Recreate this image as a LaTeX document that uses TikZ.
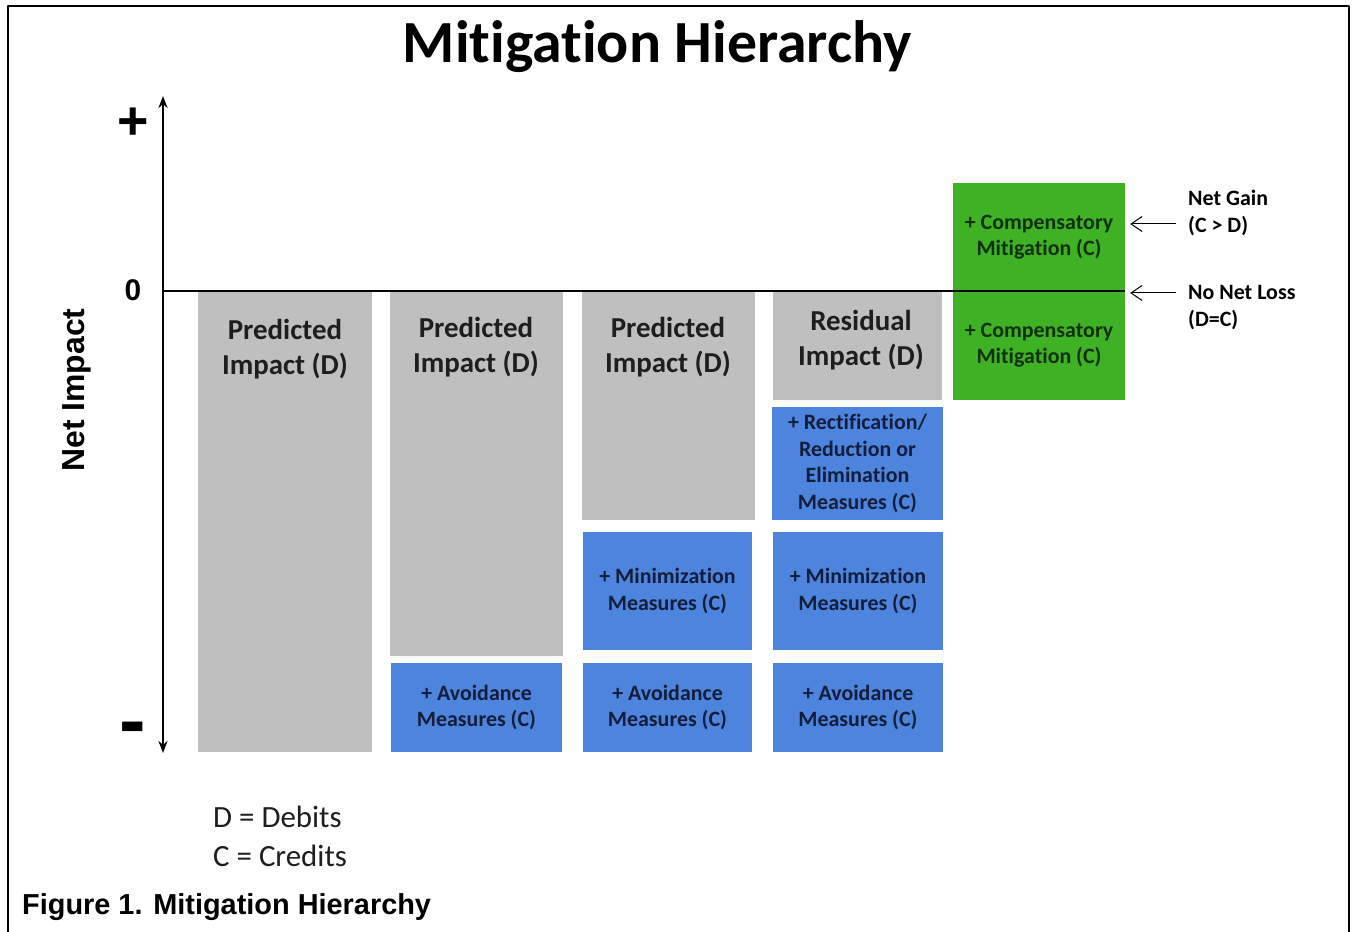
\documentclass[tikz,border=0pt]{standalone}
\usepackage{fontspec}
\setmainfont[Ligatures=NoCommon]{Carlito}
\newfontfamily\arialfont{Liberation Sans}
\usetikzlibrary{arrows.meta,positioning}

\definecolor{impactgray}{RGB}{191,191,191}
\definecolor{creditblue}{RGB}{76,132,222}
\definecolor{offsetgreen}{RGB}{62,178,36}
\definecolor{bluetext}{RGB}{20,30,58}
\definecolor{greentext}{RGB}{18,48,14}
\definecolor{darktext}{RGB}{30,30,30}

\begin{document}
\begin{tikzpicture}[>={Stealth[length=12bp,width=9bp]},line join=bevel,
  debit/.style={fill=impactgray,draw=none,inner sep=0pt},
  dtext/.style={align=center,text=darktext,font=\bfseries\fontsize{29}{35}\selectfont},
  credit/.style={fill=creditblue,inner sep=0pt,align=center,text=bluetext,font=\bfseries\fontsize{22}{26.7}\selectfont},
  offset/.style={fill=offsetgreen,inner sep=0pt,align=center,text=greentext,font=\bfseries\fontsize{22}{26}\selectfont},
  note/.style={anchor=west,align=left,inner sep=0pt,font=\bfseries\fontsize{22}{27}\selectfont},
  sign/.style={inner sep=0pt,font=\arialfont\bfseries},
  pointer/.style={-{Straight Barb[length=11bp,width=15bp]},line width=1bp,shorten >=5bp},
]
%
  \useasboundingbox (0bp,0bp) rectangle (1353bp,932bp);
  \draw [line width=2.5bp] (8bp,0bp) -- (8bp,926bp) -- (1349bp,926bp) -- (1349bp,0bp);
  \node (title) at (657bp,885bp) [inner sep=0pt,font=\bfseries\fontsize{60}{70}\selectfont] {Mitigation Hierarchy};
%
  \node (d1) at (285bp,410.5bp) [debit,minimum width=174bp,minimum height=461bp] {};
  \node (d2) at (476.5bp,458.5bp) [debit,minimum width=173bp,minimum height=365bp] {};
  \node (d3) at (668.5bp,526.5bp) [debit,minimum width=173bp,minimum height=229bp] {};
  \node (d4) at (857.5bp,586.5bp) [debit,minimum width=169bp,minimum height=109bp] {};
  \node (t1) at (285bp,583bp) [dtext] {Predicted\\Impact (D)};
  \node (t2) at (476bp,584.5bp) [dtext] {Predicted\\Impact (D)};
  \node (t3) at (668bp,584.5bp) [dtext] {Predicted\\Impact (D)};
  \node (t4) at (861bp,591.5bp) [dtext] {Residual\\Impact (D)};
%
  \node (a2) at (476.5bp,224.5bp) [credit,minimum width=171bp,minimum height=89bp] {+ Avoidance\\Measures (C)};
  \node (a3) at (667.5bp,224.5bp) [credit,minimum width=169bp,minimum height=89bp] {+ Avoidance\\Measures (C)};
  \node (a4) at (858bp,224.5bp) [credit,minimum width=170bp,minimum height=89bp] {+ Avoidance\\Measures (C)};
  \node (m3) at (667.5bp,341bp) [credit,minimum width=169bp,minimum height=118bp] {+ Minimization\\Measures (C)};
  \node (m4) at (858bp,341bp) [credit,minimum width=170bp,minimum height=118bp] {+ Minimization\\Measures (C)};
  \node (r4) at (857.5bp,468.5bp) [credit,minimum width=171bp,minimum height=113bp] {+ Rectification/\\Reduction or\\Elimination\\Measures (C)};
%
  \node (g1) at (1039bp,695bp) [offset,minimum width=172bp,minimum height=108bp] {+ Compensatory\\Mitigation (C)};
  \node (g2) at (1039bp,586.5bp) [offset,minimum width=172bp,minimum height=109bp] {+ Compensatory\\Mitigation (C)};
%
  \coordinate (top) at (163bp,836bp);
  \coordinate (bot) at (163bp,179bp);
  \coordinate (o) at (163bp,641bp);
  \draw [<->,line width=2bp] (bot) -- (top);
  \draw [line width=2bp] (o) -- (o -| g1.south east);
  \node (plus) at (133bp,808bp) [sign,font=\arialfont\bfseries\fontsize{54}{60}\selectfont] {+};
  \node (zero) at (133bp,642bp) [sign,font=\arialfont\bfseries\fontsize{30}{36}\selectfont] {0};
  \node (minus) at (133bp,197bp) [sign,font=\arialfont\bfseries\fontsize{80}{88}\selectfont] {-};
  \node (ni) at (77bp,542bp) [rotate=90,inner sep=0pt,font=\arialfont\bfseries\fontsize{32}{36}\selectfont] {Net Impact};
%
  \node (ng) at (1188bp,719bp) [note] {Net Gain\\(C > D)};
  \node (nl) at (1188bp,624bp) [note] {No Net Loss\\(D=C)};
  \coordinate (ngt) at (1176bp,708bp);
  \coordinate (nlt) at (1176bp,639bp);
  \draw [pointer] (ngt) -- (ngt -| g1.east);
  \draw [pointer] (nlt) -- (nlt -| g2.east);
%
  \node (leg) at (213bp,96bp) [anchor=west,align=left,inner sep=0pt,text=darktext,font=\fontsize{31}{39}\selectfont] {D = Debits\\C = Credits};
  \node (cap) at (22bp,25bp) [anchor=west,inner sep=0pt,font=\arialfont\bfseries\fontsize{29}{34}\selectfont] {Figure 1. Mitigation Hierarchy};
%
\end{tikzpicture}
\end{document}
